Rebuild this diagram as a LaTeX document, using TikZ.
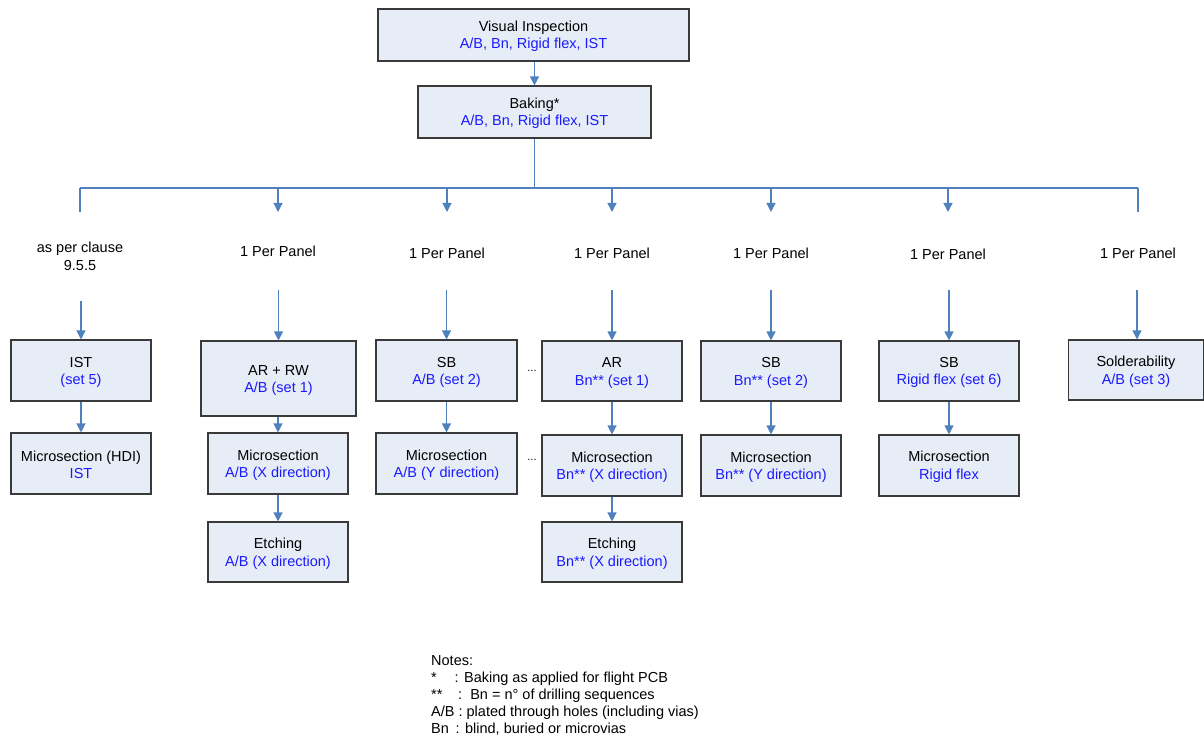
\documentclass[tikz,border=0pt]{standalone}
\usepackage{fontspec}
\setmainfont{Liberation Sans}
\usetikzlibrary{arrows.meta}
\definecolor{boxfill}{HTML}{E7EDF6}
\definecolor{boxline}{HTML}{3A3A3A}
\definecolor{connc}{HTML}{4F81BD}
\definecolor{tblue}{HTML}{1A1AFF}
\newcommand{\bxt}[2]{\rule{0pt}{13.5pt}#1\\\textcolor{tblue}{#2}}
\begin{document}
\begin{tikzpicture}[x=1pt,y=-1pt,
  box/.style={draw=boxline,fill=boxfill,line width=1.1pt,inner sep=0pt,align=center,
    font=\fontsize{14.5}{17.5}\selectfont},
  conn/.style={draw=connc,line width=1.2pt},
  arr/.style={conn,-{Triangle[width=9pt,length=9pt]}},
  lab/.style={font=\fontsize{14.5}{18}\selectfont,align=center,inner sep=0pt},
  note/.style={font=\fontsize{14.5}{17}\selectfont,inner sep=0pt,anchor=base west},
  dots/.style={font=\fontsize{11}{13}\selectfont,inner sep=0pt}]
\useasboundingbox (0,0) rectangle (1204,738);
% top boxes
\node[box,minimum width=311pt,minimum height=52pt] (vi) at (533.5,35) {\bxt{Visual Inspection}{A/B, Bn, Rigid flex, IST}};
\node[box,minimum width=233pt,minimum height=52pt] (bak) at (534.5,112) {\bxt{Baking*}{A/B, Bn, Rigid flex, IST}};
\draw[arr] (vi.south -| bak.north) -- (bak.north);
% tree
\coordinate (hub) at (534.5,188);
\foreach \i/\x in {1/80,2/278,3/447,4/612,5/771,6/948,7/1138}{
  \coordinate (b\i) at (\x,188);
  \coordinate (t\i) at (\x,212);
}
\draw[conn] (bak.south) -- (hub);
\draw[conn] (b1) -- (b7);
\draw[conn] (b1) -- (t1);
\draw[conn] (b7) -- (t7);
\foreach \i in {2,3,4,5,6}{\draw[arr] (b\i) -- (t\i);}
% labels
\node[lab] (p1) at (80,256) {as per clause\\9.5.5};
\node[lab] (p2) at (278,251) {1 Per Panel};
\node[lab] (p3) at (447,253) {1 Per Panel};
\node[lab] (p4) at (612,253) {1 Per Panel};
\node[lab] (p5) at (771,253) {1 Per Panel};
\node[lab] (p6) at (948,254) {1 Per Panel};
\node[lab] (p7) at (1138,253) {1 Per Panel};
% row 1
\node[box,minimum width=140pt,minimum height=61pt] (ist) at (81,370.5) {\bxt{IST}{(set 5)}};
\node[box,minimum width=155pt,minimum height=75pt] (arrw) at (278.5,378.5) {\bxt{AR + RW}{A/B (set 1)}};
\node[box,minimum width=141pt,minimum height=61pt] (sba) at (446.5,370.5) {\bxt{SB}{A/B (set 2)}};
\node[box,minimum width=140pt,minimum height=60pt] (arbn) at (612,371) {\bxt{AR}{Bn** (set 1)}};
\node[box,minimum width=140pt,minimum height=60pt] (sbbn) at (771,371) {\bxt{SB}{Bn** (set 2)}};
\node[box,minimum width=140pt,minimum height=60pt] (sbrf) at (949,371) {\bxt{SB}{Rigid flex (set 6)}};
\node[box,minimum width=135pt,minimum height=60pt] (sold) at (1136,370) {\bxt{Solderability}{A/B (set 3)}};
% arrows label -> row1
\coordinate (s1) at (81,301);
\coordinate (s2) at (278.5,290);
\coordinate (s3) at (446.5,290);
\coordinate (s4) at (612,290);
\coordinate (s5) at (771,290);
\coordinate (s6) at (949,290);
\coordinate (s7) at (1137,290);
\draw[arr] (s1) -- (ist.north);
\draw[arr] (s2) -- (arrw.north);
\draw[arr] (s3) -- (sba.north);
\draw[arr] (s4) -- (arbn.north);
\draw[arr] (s5) -- (sbbn.north);
\draw[arr] (s6) -- (sbrf.north);
\draw[arr] (s7) -- (s7 |- sold.north);
% row 2
\node[box,minimum width=140pt,minimum height=61pt] (mhdi) at (81,463.5) {\bxt{Microsection (HDI)}{IST}};
\node[box,minimum width=140pt,minimum height=61pt] (mabx) at (278,463.5) {\bxt{Microsection}{A/B (X direction)}};
\node[box,minimum width=141pt,minimum height=61pt] (maby) at (446.5,463.5) {\bxt{Microsection}{A/B (Y direction)}};
\node[box,minimum width=140pt,minimum height=61pt] (mbnx) at (612,465.5) {\bxt{Microsection}{Bn** (X direction)}};
\node[box,minimum width=140pt,minimum height=61pt] (mbny) at (771,465.5) {\bxt{Microsection}{Bn** (Y direction)}};
\node[box,minimum width=140pt,minimum height=61pt] (mrf) at (949,465.5) {\bxt{Microsection}{Rigid flex}};
% row 3
\node[box,minimum width=140pt,minimum height=60pt] (eab) at (278,552) {\bxt{Etching}{A/B (X direction)}};
\node[box,minimum width=140pt,minimum height=60pt] (ebn) at (612,552) {\bxt{Etching}{Bn** (X direction)}};
% arrows between rows
\draw[arr] (ist.south) -- (mhdi.north);
\draw[arr] (mabx.north |- arrw.south) -- (mabx.north);
\draw[arr] (sba.south) -- (maby.north);
\draw[arr] (arbn.south) -- (mbnx.north);
\draw[arr] (sbbn.south) -- (mbny.north);
\draw[arr] (sbrf.south) -- (mrf.north);
\draw[arr] (mabx.south) -- (eab.north);
\draw[arr] (mbnx.south) -- (ebn.north);
% dots
\node[dots] (d1) at (532,371) {...};
\node[dots] (d2) at (532,460) {...};
% notes
\node[note] (nt) at (431,665.5) {Notes:};
\node[note] (n1a) at (431,682.5) {*};
\node[note] (n1b) at (454.5,682.5) {: Baking as applied for flight PCB};
\node[note] (n2a) at (431,699.5) {**};
\node[note] (n2b) at (458,699.5) {:\ \ Bn = n° of drilling sequences};
\node[note] (n3) at (431,716.5) {A/B : plated through holes (including vias)};
\node[note] (n4a) at (431,733.5) {Bn};
\node[note] (n4b) at (455.5,733.5) {: blind, buried or microvias};
\end{tikzpicture}
\end{document}
